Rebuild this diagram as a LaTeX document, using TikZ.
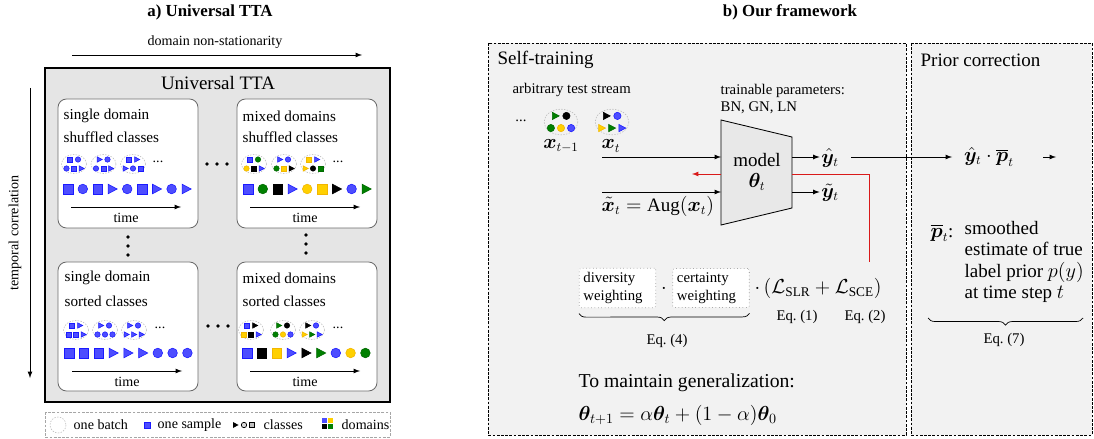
\documentclass[tikz,border=0pt]{standalone}
\usepackage{amsmath}
\usepackage{amssymb}
\usepackage{bm}
\usepackage{fontspec}
\setmainfont{Liberation Serif}
\usepackage{tikz}
\usetikzlibrary{decorations.pathreplacing}
\usepackage{xcolor}

% sample colours: fill and border
\definecolor{fbl}{HTML}{4D4DFF}
\definecolor{dbl}{HTML}{1A1AFF}
\definecolor{fgr}{HTML}{008000}
\definecolor{dgr}{HTML}{006A00}
\definecolor{fbk}{HTML}{000000}
\definecolor{dbk}{HTML}{000000}
\definecolor{fye}{HTML}{FFD000}
\definecolor{dye}{HTML}{F2B600}
\definecolor{lossred}{HTML}{D91A1A}

% one sample: colour, centre, half size
\newcommand{\shpS}[3]{\path[fill=f#1,draw=d#1,line width=0.4pt,shift={#2}] (-#3,-#3) rectangle (#3,#3);}
\newcommand{\shpC}[3]{\path[fill=f#1,draw=d#1,line width=0.4pt,shift={#2}] (0,0) circle[radius=#3];}
\newcommand{\shpT}[3]{\path[fill=f#1,draw=d#1,line width=0.4pt,shift={#2}] (-0.9*#3,-#3) -- (#3,0) -- (-0.9*#3,#3) -- cycle;}

% one batch: centre x, centre y, upper samples, lower samples
\newcommand{\batch}[4]{%
  \draw[batchline] (#1,#2) ellipse[x radius=12.5,y radius=9.5];
  \foreach \sk/\sc [count=\si from 0] in {#3}
    {\csname shp\sk\endcsname{\sc}{(#1-4+8*\si,#2-4.5)}{2.7}}
  \foreach \sk/\sc [count=\si from 0] in {#4}
    {\csname shp\sk\endcsname{\sc}{(#1-7.5+7.5*\si,#2+4.5)}{2.7}}}

% stream of nine samples: start x, y, samples
\newcommand{\samplerow}[3]{%
  \foreach \sk/\sc [count=\si from 0] in {#3}
    {\csname shp\sk\endcsname{\sc}{(#1+14.8*\si,#2)}{4.8}}}

\begin{document}
\begin{tikzpicture}[x=0.025cm, y=-0.025cm,
    every node/.style={inner sep=1pt},
    sml/.style={font=\fontsize{10}{12}\selectfont},
    lab/.style={font=\fontsize{10.5}{12.5}\selectfont},
    celltext/.style={font=\fontsize{10.8}{13}\selectfont, anchor=west},
    big/.style={font=\fontsize{13.5}{15}\selectfont},
    head/.style={font=\fontsize{12}{14}\selectfont\bfseries},
    cell/.style={draw=gray!85!black, fill=white, rounded corners=6pt, line width=0.6pt},
    batchline/.style={draw=gray!55, dash pattern=on 1pt off 1pt, line width=0.4pt},
    part/.style={draw, dash pattern=on 2pt off 1pt, fill=gray!10, line width=0.6pt},
    wbox/.style={draw=gray, dotted, fill=white, rounded corners=1pt, text width=1.7cm,
      inner sep=3pt, align=left, font=\fontsize{10.5}{12.5}\selectfont},
    arr/.style={-latex, line width=0.6pt},
    brc/.style={decorate, decoration={brace, mirror, amplitude=5pt}, line width=0.5pt}]

    \useasboundingbox (0,0) rectangle (1094,439);

    % a) Universal TTA
    \node[head] (ta) at (210,12) {a) Universal TTA};
    \node[sml] (dns) at (215,42) {domain non-stationarity};
    \coordinate (ns0) at (72,55);
    \coordinate (ns1) at (362,55);
    \draw[arr] (ns0) -- (ns1);

    % temporal correlation
    \coordinate (tc0) at (30,88);
    \coordinate (tc1) at (30,378);
    \draw[arr] (tc0) -- (tc1);
    \node[sml, rotate=90] (tc) at (15,233) {temporal correlation};

    % outer box
    \draw[line width=1.4pt, fill=gray!20] (45,68) rectangle (390,402);
    \node[big] (utta) at (218,83) {Universal TTA};

    % single domain, shuffled classes
    \begin{scope}[shift={(58,99)}]
        \draw[cell] (0,0) rectangle (140,129);
        \node[celltext] (tl1) at (4,17) {single domain};
        \node[celltext] (tl2) at (4,38) {shuffled classes};
        \batch{16}{65}{S/bl,C/bl}{C/bl,S/bl,T/bl}
        \batch{45.5}{65}{T/bl,C/bl}{C/bl,S/bl,T/bl}
        \batch{75}{65}{S/bl,T/bl}{T/bl,C/bl,S/bl}
        \node[sml] (tl3) at (100,63) {...};
        \samplerow{10}{90}{S/bl,C/bl,S/bl,T/bl,C/bl,S/bl,T/bl,C/bl,T/bl}
        \coordinate (tl4) at (13,108);
        \coordinate (tl5) at (123,108);
        \draw[arr] (tl4) -- (tl5);
        \node[sml] (tl6) at (68,119) {time};
    \end{scope}

    % mixed domains, shuffled classes
    \begin{scope}[shift={(237,99)}]
        \draw[cell] (0,0) rectangle (140,129);
        \node[celltext] (tr1) at (4,17) {mixed domains};
        \node[celltext] (tr2) at (4,38) {shuffled classes};
        \batch{17}{65}{S/bl,C/gr}{C/ye,S/bk,T/bl}
        \batch{47}{65}{T/bl,C/bl}{C/gr,S/ye,T/bk}
        \batch{76}{65}{S/ye,T/bl}{T/ye,C/bk,S/gr}
        \node[sml] (tr3) at (101,63) {...};
        \samplerow{11}{90}{S/bl,C/gr,S/bk,T/bl,C/ye,S/ye,T/bk,C/bl,T/gr}
        \coordinate (tr4) at (13,108);
        \coordinate (tr5) at (123,108);
        \draw[arr] (tr4) -- (tr5);
        \node[sml] (tr6) at (68,119) {time};
    \end{scope}

    % single domain, sorted classes
    \begin{scope}[shift={(58,262)}]
        \draw[cell] (0,0) rectangle (140,129);
        \node[celltext] (bl1) at (5,16) {single domain};
        \node[celltext] (bl2) at (5,39) {sorted classes};
        \batch{18}{68}{S/bl,T/bl}{S/bl,S/bl,T/bl}
        \batch{47}{68}{T/bl,C/bl}{C/bl,C/bl,C/bl}
        \batch{76}{68}{T/bl,C/bl}{T/bl,T/bl,T/bl}
        \node[sml] (bl3) at (102,66) {...};
        \samplerow{11}{91}{S/bl,S/bl,S/bl,T/bl,T/bl,T/bl,C/bl,C/bl,C/bl}
        \coordinate (bl4) at (14,109);
        \coordinate (bl5) at (124,109);
        \draw[arr] (bl4) -- (bl5);
        \node[sml] (bl6) at (69,120) {time};
    \end{scope}

    % mixed domains, sorted classes
    \begin{scope}[shift={(237,262)}]
        \draw[cell] (0,0) rectangle (140,129);
        \node[celltext] (br1) at (4,16) {mixed domains};
        \node[celltext] (br2) at (4,39) {sorted classes};
        \batch{14}{68}{S/bl,T/bk}{S/ye,S/bk,T/bl}
        \batch{46}{68}{T/gr,C/bk}{C/gr,C/ye,C/bl}
        \batch{75}{68}{T/bk,C/bl}{T/ye,T/gr,T/bl}
        \node[sml] (br3) at (101,66) {...};
        \samplerow{10}{91}{S/bl,S/bk,S/ye,T/bl,T/bk,T/gr,C/bl,C/ye,C/gr}
        \coordinate (br4) at (13,109);
        \coordinate (br5) at (123,109);
        \draw[arr] (br4) -- (br5);
        \node[sml] (br6) at (68,120) {time};
    \end{scope}

    % dots between the cells
    \foreach \d in {0,10,20} {
        \fill (207+\d,164) circle[radius=1.8];
        \fill (208+\d,326) circle[radius=1.8];
        \fill (128,237+\d*0.9) circle[radius=1.8];
        \fill (306,235+\d*0.9) circle[radius=1.8];
    }

    % legend
    \draw[draw=gray!70, dash pattern=on 2pt off 1pt, fill=white, line width=0.5pt] (45,412) rectangle (390,437);
    \draw[batchline] (58,425) circle[radius=8];
    \node[sml, anchor=west] (lg1) at (72,425) {one batch};
    \shpS{bl}{(147,425)}{3}
    \node[sml, anchor=west] (lg2) at (156,425) {one sample};
    \fill (233,422) -- (238.5,425) -- (233,428) -- cycle;
    \draw[fill=gray!30, line width=0.5pt] (244,425) circle[radius=2.7];
    \draw[fill=gray!50, line width=0.5pt] (249.5,422.5) rectangle (254.5,427.5);
    \node[sml, anchor=west] (lg3) at (262,425) {classes};
    \fill[fbl] (322,418) rectangle (327,423);
    \fill[fye] (328,418) rectangle (333,423);
    \fill[fbk] (322,424) rectangle (327,429);
    \fill[fgr] (328,424) rectangle (333,429);
    \node[sml, anchor=west] (lg4) at (340,425) {domains};

    % b) Our framework
    \node[head] (tb) at (790,12) {b) Our framework};
    \draw[part] (488,43) rectangle (906,435);
    \draw[part] (911,43) rectangle (1092,435);
    \node[big, anchor=west] (st) at (496,60) {Self-training};
    \node[big, anchor=west] (pc) at (919,60) {Prior correction};

    % test stream
    \node[lab, anchor=west] (ats) at (511,90) {arbitrary test stream};
    \node[lab] (dts) at (521,121) {...};
    \begin{scope}[shift={(561,122)}, scale=1.35]
        \batch{0}{0}{T/gr,C/bk}{C/gr,C/ye,C/bl}
    \end{scope}
    \begin{scope}[shift={(612,122)}, scale=1.35]
        \batch{0}{0}{T/bk,C/bl}{T/ye,T/gr,T/bl}
    \end{scope}
    \node[big] (xtm) at (561,146) {$\bm{x}_{t-1}$};
    \node[big] (xt) at (611,146) {$\bm{x}_t$};

    % model
    \node[lab, anchor=west, align=left] (tp) at (719,99) {trainable parameters:\\BN, GN, LN};
    \coordinate (mtl) at (721,120);
    \coordinate (mtr) at (792,137);
    \coordinate (mbr) at (792,208);
    \coordinate (mbl) at (721,225);
    \draw[fill=gray!18, line width=0.6pt] (mtl) -- (mtr) -- (mbr) -- (mbl) -- cycle;
    \node[big, align=center] (model) at (757,172) {model\\$\bm{\theta}_t$};

    % inputs and outputs
    \coordinate (in1) at (602,157);
    \coordinate (in2) at (602,192);
    \draw[arr] (in1) -- (in1 -| mtl);
    \draw[arr] (in2) -- (in2 -| mtl);
    \node[big, anchor=west] (aug) at (600,206) {$\tilde{\bm{x}}_t = \mathrm{Aug}(\bm{x}_t)$};
    \coordinate (out1) at (792,157);
    \coordinate (out2) at (792,192);
    \node[big] (yh) at (830,158) {$\hat{\bm{y}}_t$};
    \node[big] (yt) at (830,193) {$\tilde{\bm{y}}_t$};
    \draw[arr] (out1) -- (out1 -| yh.west);
    \draw[arr] (out2) -- (out2 -| yt.west);

    % gradient
    \coordinate (gl) at (692,174);
    \coordinate (gr) at (869,262);
    \draw[arr, draw=lossred] (mtl |- gl) -- (gl);
    \draw[lossred, line width=0.6pt] (mtr |- gl) -| (gr);

    % prior correction
    \coordinate (yo) at (851,157);
    \coordinate (yi) at (952,157);
    \draw[arr] (yo) -- (yi);
    \node[big] (yp) at (989,157) {$\hat{\bm{y}}_t \cdot \overline{\bm{p}}_t$};
    \coordinate (po0) at (1043,157);
    \coordinate (po1) at (1056,157);
    \draw[arr] (po0) -- (po1);

    % loss
    \node[wbox] (div) at (617.5,288) {diversity\\weighting};
    \node[wbox] (cert) at (711,288) {certainty\\weighting};
    \node[big] (dot) at (664,289) {$\cdot$};
    \node[big, anchor=west] (loss) at (753,288) {$\cdot\,(\mathcal{L}_{\mathrm{SLR}} + \mathcal{L}_{\mathrm{SCE}})$};
    \node[lab] (eq1) at (797,317) {Eq.~(1)};
    \node[lab] (eq2) at (865,317) {Eq.~(2)};
    \draw[brc] ([yshift=-4pt]div.south west) -- ([yshift=-4pt]cert.south east);
    \node[lab] (eq4) at (667,341) {Eq.~(4)};

    % generalization
    \node[anchor=west, font=\fontsize{14}{16}\selectfont] (gen) at (577,383) {To maintain generalization:};
    \node[anchor=west, font=\fontsize{14}{16}\selectfont] (ema) at (577,415) {$\bm{\theta}_{t+1} = \alpha\bm{\theta}_t + (1-\alpha)\bm{\theta}_0$};

    % smoothed prior
    \node[big] (pbar) at (942,233) {$\overline{\bm{p}}_t$:};
    \node[big, anchor=north west, align=left] (est) at (963,220) {smoothed\\estimate of true\\label prior $p(y)$\\at time step $t$};
    \coordinate (pb0) at (928,318);
    \coordinate (pb1) at (1083,318);
    \draw[brc] (pb0) -- (pb1);
    \node[lab] (eq7) at (1004,340) {Eq.~(7)};
\end{tikzpicture}
\end{document}
